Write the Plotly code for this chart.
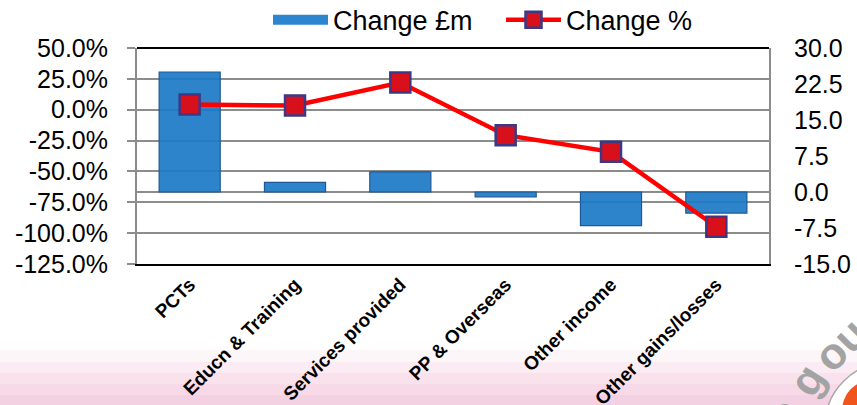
import plotly.graph_objects as go

# Income movements by source
categories = ["PCTs", "Educn & Training", "Services provided", "PP & Overseas",
              "Other income", "Other gains/losses"]
change_gbp_m = [25.0, 2.0, 4.2, -1.0, -7.0, -4.4]
change_pct = [4.2, 3.4, 22.0, -20.6, -34.1, -94.8]

pct_ticks = [50, 25, 0, -25, -50, -75, -100, -125]
gbp_ticks = [30, 22.5, 15, 7.5, 0, -7.5, -15]

W, H = 857, 405
L, R, T, B = 137, 88, 48, 141
PW, PH = W - L - R, H - T - B
FONT = "Liberation Sans, Arial"
BAR_BLUE = "rgba(28,122,199,0.92)"


def px_x(x):
    return (x - L) / PW


def px_y(y):
    return (H - B - y) / PH


fig = go.Figure()

# £m bars on the primary (right-hand) axis
fig.add_trace(go.Bar(
    x=categories, y=change_gbp_m, name="Change £m", yaxis="y",
    width=0.58, showlegend=False,
    marker=dict(color=BAR_BLUE, line=dict(color="#1d5a95", width=1.2)),
))
# legend swatch for the bars
fig.add_trace(go.Scatter(
    x=[None], y=[None], name="Change £m", yaxis="y", mode="lines",
    line=dict(color="#2c86cf", width=11),
))
# % line on the overlaid (left-hand) axis so it sits above the bars
fig.add_trace(go.Scatter(
    x=categories, y=change_pct, name="Change %", yaxis="y2",
    mode="lines+markers",
    line=dict(color="#ff0000", width=4.5),
    marker=dict(symbol="square", size=20, color="#d8101c",
                line=dict(color="#3b3886", width=2.5)),
))

shapes = []
# soft pink bands along the bottom of the slide
bands = [(350, 362, "#fdf6f9"), (362, 373, "#fbebf2"), (373, 384, "#f9e2ec"),
         (384, 395, "#f7d9e7"), (395, 406, "#f4d1e2")]
for y0, y1, c in bands:
    shapes.append(dict(type="rect", xref="paper", yref="paper", layer="below",
                       x0=px_x(-2), x1=px_x(W + 2), y0=px_y(y1), y1=px_y(y0),
                       fillcolor=c, line=dict(width=0)))
# corner badge
shapes.append(dict(type="circle", xref="paper", yref="paper", layer="below",
                   x0=px_x(825), x1=px_x(955), y0=px_y(490), y1=px_y(362),
                   fillcolor="white", line=dict(color="#a8a8a8", width=1.5)))
shapes.append(dict(type="circle", xref="paper", yref="paper", layer="below",
                   x0=px_x(842), x1=px_x(902), y0=px_y(442), y1=px_y(380),
                   fillcolor="#f0561c", line=dict(width=0)))
# top frame line
shapes.append(dict(type="line", xref="paper", yref="paper", x0=0, x1=1, y0=1, y1=1,
                   line=dict(color="#000000", width=2)))

badge_font = dict(family=FONT, size=44, color="#a3a3a3")
annotations = [
    dict(text="<b>ou</b>", xref="paper", yref="paper", x=px_x(840), y=px_y(344),
         xanchor="center", yanchor="middle", showarrow=False, textangle=-45,
         font=badge_font),
    dict(text="<b>g</b>", xref="paper", yref="paper", x=px_x(806), y=px_y(380),
         xanchor="center", yanchor="middle", showarrow=False, textangle=-58,
         font=badge_font),
    dict(text="<b>n</b>", xref="paper", yref="paper", x=px_x(784), y=px_y(414),
         xanchor="center", yanchor="middle", showarrow=False, textangle=-66,
         font=badge_font),
]

fig.update_layout(
    width=W, height=H,
    margin=dict(l=L, r=R, t=T, b=B, autoexpand=False),
    paper_bgcolor="white", plot_bgcolor="white",
    font=dict(family=FONT, size=25, color="#000000"),
    showlegend=True,
    legend=dict(orientation="h", xref="container", yref="container",
                x=268 / W, y=0.95, xanchor="left", yanchor="middle",
                font=dict(size=27), bgcolor="rgba(0,0,0,0)", itemwidth=55,
                entrywidth=163, traceorder="normal", tracegroupgap=0),
    xaxis=dict(
        tickangle=-45,
        tickfont=dict(family=FONT, size=19, color="#000000", weight="bold"),
        showline=True, linecolor="#000000", linewidth=2, mirror=False,
        showgrid=False, ticks="",
    ),
    yaxis=dict(
        range=[-15, 30], tickvals=gbp_ticks,
        ticktext=[f"{v:.1f}" for v in gbp_ticks],
        side="right",
        showgrid=False,
        zeroline=True, zerolinecolor="#8c8c8c", zerolinewidth=2,
        showline=True, linecolor="#8c8c8c", linewidth=2,
        ticks="", ticklabelstandoff=18,
    ),
    yaxis2=dict(
        range=[-125, 50], tickvals=pct_ticks,
        ticktext=[f"{v:.1f}%" for v in pct_ticks],
        overlaying="y", side="left",
        showgrid=True, gridcolor="#8c8c8c", gridwidth=2,
        zeroline=False,
        showline=True, linecolor="#8c8c8c", linewidth=2,
        ticks="outside", ticklen=8, tickcolor="#8c8c8c", tickwidth=2,
        ticklabelstandoff=14,
    ),
    shapes=shapes,
    annotations=annotations,
    bargap=0.42,
)

fig.write_html("out.html")
